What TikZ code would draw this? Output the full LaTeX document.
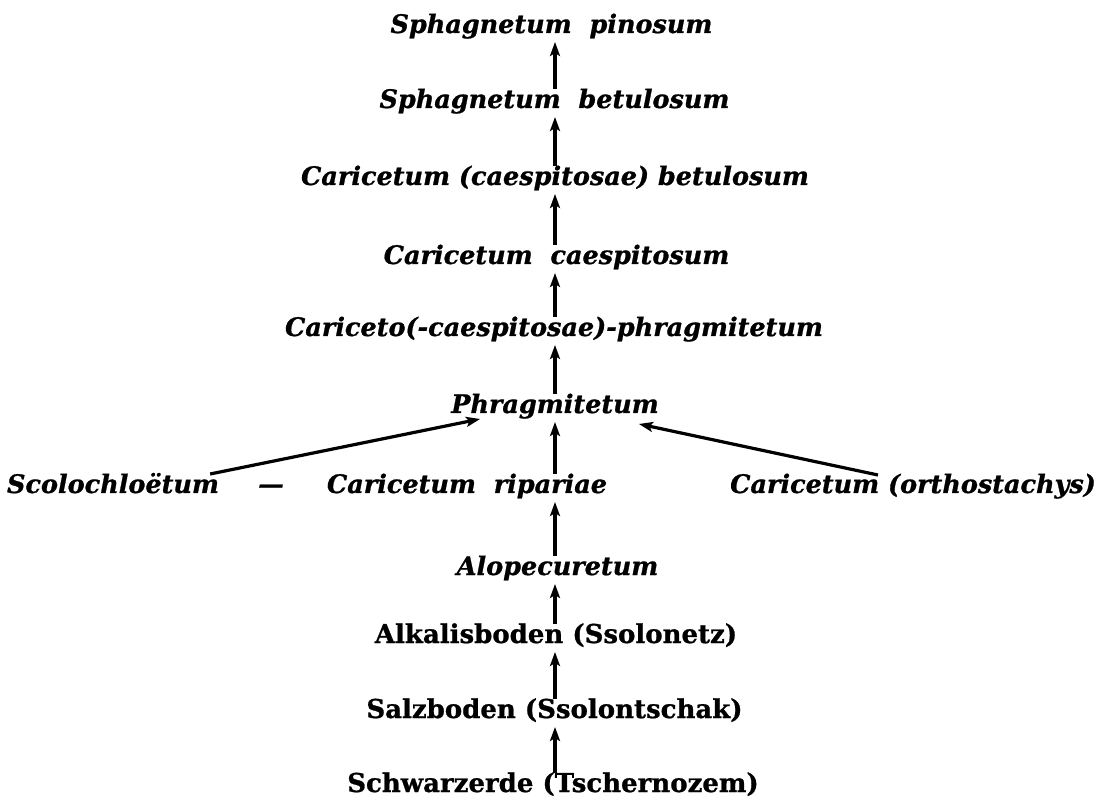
\documentclass[tikz,border=0pt]{standalone}
\usepackage{fontspec}
\setmainfont{DejaVu Serif}
\newfontfamily\heavyserif{DejaVu Serif}[FakeBold=0.9]
\usetikzlibrary{arrows.meta,calc}
\begin{document}
\begin{tikzpicture}[x=1pt,y=-1pt,
  lab/.style={inner sep=0pt,anchor=base,font=\fontsize{25.5}{28}\heavyserif\bfseries\itshape},
  soil/.style={inner sep=0pt,anchor=base,font=\fontsize{26}{28}\heavyserif\bfseries},
  arr/.style={line width=3.2pt,-{Stealth[length=14pt,width=10pt,inset=3pt]}}]
\useasboundingbox (0,0) rectangle (1101,799);
\node[lab] (sp)  at (551.5,33)  {Sphagnetum\ \ pinosum};
\node[lab] (sb)  at (554.5,108) {Sphagnetum\ \ betulosum};
\node[lab] (ccb) at (555,185)   {Caricetum (caespitosae) betulosum};
\node[lab] (cc)  at (556.5,264) {Caricetum\ \ caespitosum};
\node[lab] (ccp) at (554,336)   {Cariceto(-caespitosae)-phragmitetum};
\node[lab] (ph)  at (555,413)   {Phragmitetum};
\node[lab] (sc)  at (113,493)   {Scolochloëtum};
\node[lab] (da)  at (271,493)   {—};
\node[lab] (cr)  at (467,493)   {Caricetum\ \ ripariae};
\node[lab] (co)  at (913,493)   {Caricetum (orthostachys)};
\node[lab] (al)  at (557.5,575) {Alopecuretum};
\node[soil] (ak) at (556,643)   {Alkalisboden (Ssolonetz)};
\node[soil] (sz) at (554.5,718) {Salzboden (Ssolontschak)};
\node[soil] (sw) at (553,792)   {Schwarzerde (Tschernozem)};
\coordinate (ax) at (555,0);
\foreach \lo/\up in {sb/sp, ccb/sb, cc/ccb, ccp/cc, ph/ccp, cr/ph, al/cr, ak/al, sz/ak, sw/sz}
  \draw[arr] ($(ax |- \lo.base)+(0,-19)$) -- ($(ax |- \up.base)+(0,9)$);
\draw[arr] ($(sc.base east)+(-9,-19)$) -- ($(ph.base west)+(29,6)$);
\draw[arr] ($(co.base west)+(148,-18)$) -- ($(ph.base east)+(-20,11)$);
\end{tikzpicture}
\end{document}
